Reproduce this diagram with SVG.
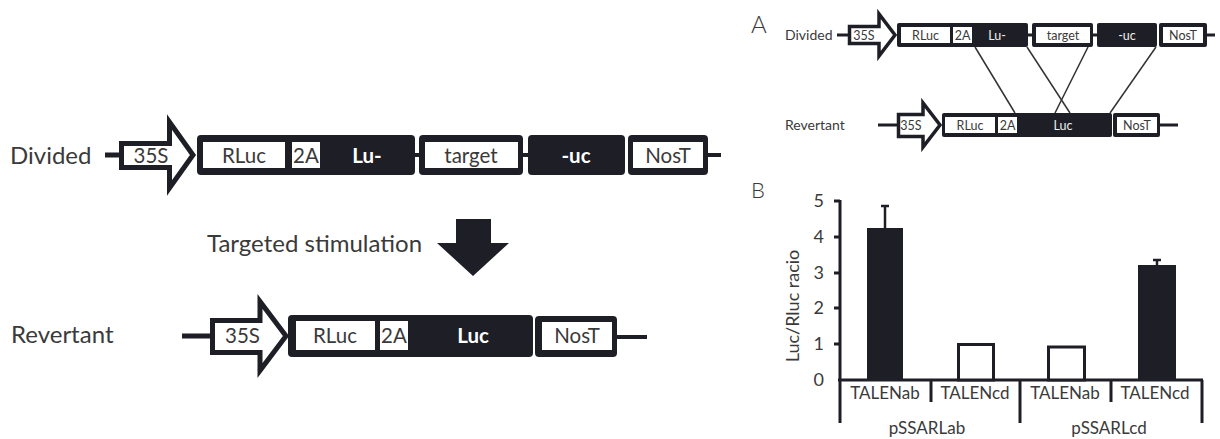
<svg xmlns="http://www.w3.org/2000/svg" width="1220" height="439" viewBox="0 0 1220 439">
<style>
.lbl{font-family:Lato,"Liberation Sans",sans-serif;fill:#3a3a3a}
.big{font-size:24px}
.bt{font-family:Lato,"Liberation Sans",sans-serif;font-size:20.5px;fill:#3a3a3a;text-anchor:middle}
.bw{font-family:Lato,"Liberation Sans",sans-serif;font-size:20.5px;fill:#fff;font-weight:bold;text-anchor:middle}
.st{font-family:Lato,"Liberation Sans",sans-serif;font-size:12.5px;fill:#3a3a3a;text-anchor:middle}
.sw{font-family:Lato,"Liberation Sans",sans-serif;font-size:12.5px;fill:#eee;text-anchor:middle}
.dk{fill:#1e1f26}
.wh{fill:#fff}
.ln{stroke:#1e1f26;fill:none}
.arr{fill:#fff;stroke:#1e1f26;stroke-linejoin:miter}
.ax{font-family:Lato,"Liberation Sans",sans-serif;font-size:18px;fill:#3a3a3a}
.xl{font-family:Lato,"Liberation Sans",sans-serif;font-size:17px;fill:#3a3a3a;text-anchor:middle}
</style>
<rect width="1220" height="439" fill="#fff"/>

<!-- Main: Divided -->
<text class="lbl big" x="10" y="164">Divided</text>
<g id="connectors-main" class="ln">
<line x1="105" y1="155" x2="122" y2="155" stroke-width="5"/>
<line x1="413" y1="155" x2="421" y2="155" stroke-width="4"/>
<line x1="521" y1="155" x2="530" y2="155" stroke-width="4"/>
<line x1="706" y1="155" x2="721" y2="155" stroke-width="4"/>
<line x1="182" y1="336" x2="213" y2="336" stroke-width="5"/>
<line x1="615" y1="337" x2="647" y2="337" stroke-width="4"/>
</g>
<g id="d-35S">
<polygon class="arr" stroke-width="5" points="121.5,143.5 169.5,143.5 169.5,122 193,155 169.5,188 169.5,167.5 121.5,167.5"/>
<text class="bt" x="151" y="163">35S</text>
</g>
<g id="d-RLuc-Lu">
<rect class="dk" x="197" y="135" width="218" height="40" rx="4"/>
<rect class="wh" x="203" y="142" width="82" height="26"/>
<text class="bt" x="244" y="163">RLuc</text>
<rect class="wh" x="292" y="142" width="28" height="26"/>
<text class="bt" x="306" y="163">2A</text>
<text class="bw" x="367" y="163">Lu-</text>
</g>
<g id="d-target">
<rect class="dk" x="419" y="135" width="104" height="40" rx="4"/>
<rect class="wh" x="425" y="142" width="93" height="26"/>
<text class="bt" x="471" y="163">target</text>
</g>
<g id="d-uc">
<rect class="dk" x="528" y="135" width="97" height="40" rx="4"/>
<text class="bw" x="576" y="163">-uc</text>
</g>
<g id="d-NosT">
<rect class="dk" x="628" y="135" width="80" height="40" rx="4"/>
<rect class="wh" x="633" y="142" width="70" height="26"/>
<text class="bt" x="668" y="163">NosT</text>
</g>

<!-- Stimulation -->
<g id="stim">
<text class="lbl big" x="207" y="252">Targeted stimulation</text>
<polygon fill="#1e1f26" points="456,219 491,219 491,243 509,243 473,276 437,243 456,243"/>
</g>

<!-- Main: Revertant -->
<text class="lbl big" x="11" y="343">Revertant</text>
<g id="r-35S">
<polygon class="arr" stroke-width="5" points="212.5,320.5 260,320.5 260,301.5 286,336 260,370.5 260,352.5 212.5,352.5"/>
<text class="bt" x="242.5" y="343">35S</text>
</g>
<g id="r-RLuc-Luc">
<rect class="dk" x="288" y="315" width="245" height="42" rx="4"/>
<rect class="wh" x="296" y="321" width="79" height="29"/>
<text class="bt" x="335" y="343">RLuc</text>
<rect class="wh" x="380" y="321" width="28" height="29"/>
<text class="bt" x="394" y="343">2A</text>
<text class="bw" x="473" y="343">Luc</text>
</g>
<g id="r-NosT">
<rect class="dk" x="535" y="316" width="82" height="41" rx="4"/>
<rect class="wh" x="542" y="322" width="70" height="28"/>
<text class="bt" x="577" y="343">NosT</text>
</g>

<!-- Panel A -->
<text class="lbl" x="751" y="33" font-size="24" font-weight="300">A</text>
<text class="lbl" x="785" y="40" font-size="14">Divided</text>
<text class="lbl" x="785" y="130" font-size="14">Revertant</text>
<g id="a-connectors" class="ln">
<line x1="837" y1="35" x2="850" y2="35" stroke-width="3"/>
<line x1="1027" y1="35" x2="1033" y2="35" stroke-width="3"/>
<line x1="1092" y1="35" x2="1098" y2="35" stroke-width="3"/>
<line x1="1206" y1="35" x2="1215" y2="35" stroke-width="3"/>
<line x1="878" y1="125" x2="898" y2="125" stroke-width="3"/>
<line x1="1159" y1="125" x2="1178" y2="125" stroke-width="3"/>
<g stroke="#333" stroke-width="1.5">
<line x1="975" y1="47" x2="1015" y2="113"/>
<line x1="1027" y1="47" x2="1070" y2="113"/>
<line x1="1088" y1="47" x2="1055" y2="113"/>
<line x1="1156" y1="47" x2="1110" y2="113"/>
</g>
</g>
<g id="a-d-35S">
<polygon class="arr" stroke-width="3.5" points="849.5,26.5 879,26.5 879,14 895,35 879,56 879,43.5 849.5,43.5"/>
<text class="st" x="864" y="40">35S</text>
</g>
<g id="a-d-RLuc-Lu">
<rect class="dk" x="897" y="23" width="131" height="24" rx="2"/>
<rect class="wh" x="901" y="27" width="49" height="16"/>
<text class="st" x="925.5" y="40">RLuc</text>
<rect class="wh" x="953" y="27" width="19" height="16"/>
<text class="st" x="962.5" y="40">2A</text>
<text class="sw" x="997" y="40">Lu-</text>
</g>
<g id="a-d-target">
<rect class="dk" x="1032" y="23" width="61" height="24" rx="2"/>
<rect class="wh" x="1036" y="27" width="54" height="16"/>
<text class="st" x="1063" y="40">target</text>
</g>
<g id="a-d-uc">
<rect class="dk" x="1097" y="23" width="60" height="24" rx="2"/>
<text class="sw" x="1127" y="40">-uc</text>
</g>
<g id="a-d-NosT">
<rect class="dk" x="1159" y="23" width="48" height="24" rx="2"/>
<rect class="wh" x="1163" y="27" width="40" height="16"/>
<text class="st" x="1183" y="40">NosT</text>
</g>
<g id="a-r-35S">
<polygon class="arr" stroke-width="3.5" points="898.5,114.5 923,114.5 923,103 940,125 923,147 923,136.5 898.5,136.5"/>
<text class="st" x="911" y="130">35S</text>
</g>
<g id="a-r-RLuc-Luc">
<rect class="dk" x="942" y="113" width="170" height="24" rx="2"/>
<rect class="wh" x="945" y="117" width="50" height="16"/>
<text class="st" x="970" y="130">RLuc</text>
<rect class="wh" x="998" y="117" width="19" height="16"/>
<text class="st" x="1007.5" y="130">2A</text>
<text class="sw" x="1063" y="130">Luc</text>
</g>
<g id="a-r-NosT">
<rect class="dk" x="1113" y="113" width="47" height="24" rx="2"/>
<rect class="wh" x="1117" y="117" width="40" height="16"/>
<text class="st" x="1137" y="130">NosT</text>
</g>

<!-- Panel B -->
<g id="chart">
<text class="lbl" x="751" y="198" font-size="22" font-weight="300">B</text>
<g class="ax" text-anchor="end">
<text x="824" y="207">5</text>
<text x="824" y="243">4</text>
<text x="824" y="279">3</text>
<text x="824" y="314">2</text>
<text x="824" y="350">1</text>
<text x="824" y="386">0</text>
</g>
<text class="ax" transform="translate(799,306) rotate(-90)" text-anchor="middle">Luc/Rluc racio</text>
<g stroke="#1e1f26" stroke-width="3" fill="none">
<line x1="840" y1="200" x2="840" y2="423"/>
<line x1="838" y1="380" x2="1203" y2="380"/>
<line x1="834" y1="201" x2="840" y2="201"/>
<line x1="834" y1="237" x2="840" y2="237"/>
<line x1="834" y1="273" x2="840" y2="273"/>
<line x1="834" y1="308" x2="840" y2="308"/>
<line x1="834" y1="344" x2="840" y2="344"/>
<line x1="931" y1="380" x2="931" y2="402"/>
<line x1="1020" y1="380" x2="1020" y2="423"/>
<line x1="1111" y1="380" x2="1111" y2="402"/>
<line x1="1202" y1="380" x2="1202" y2="423"/>
</g>
<g id="bars">
<rect x="867" y="228" width="36" height="152" fill="#1e1f26"/>
<rect x="958.5" y="344.5" width="35" height="35.5" fill="#fff" stroke="#1e1f26" stroke-width="3"/>
<rect x="1048.5" y="347" width="36" height="33" fill="#fff" stroke="#1e1f26" stroke-width="3"/>
<rect x="1138" y="265" width="38" height="115" fill="#1e1f26"/>
<g stroke="#1e1f26" stroke-width="2.5">
<line x1="885" y1="228" x2="885" y2="206"/>
<line x1="881" y1="206" x2="889" y2="206"/>
<line x1="976" y1="344" x2="976" y2="343"/>
<line x1="1157" y1="265" x2="1157" y2="260"/>
<line x1="1153" y1="260" x2="1161" y2="260"/>
</g>
</g>
<g>
<text class="xl" x="885" y="399">TALENab</text>
<text class="xl" x="975" y="399">TALENcd</text>
<text class="xl" x="1065" y="399">TALENab</text>
<text class="xl" x="1155" y="399">TALENcd</text>
<text class="xl" x="927" y="434">pSSARLab</text>
<text class="xl" x="1109" y="434">pSSARLcd</text>
</g>
</g>
</svg>
